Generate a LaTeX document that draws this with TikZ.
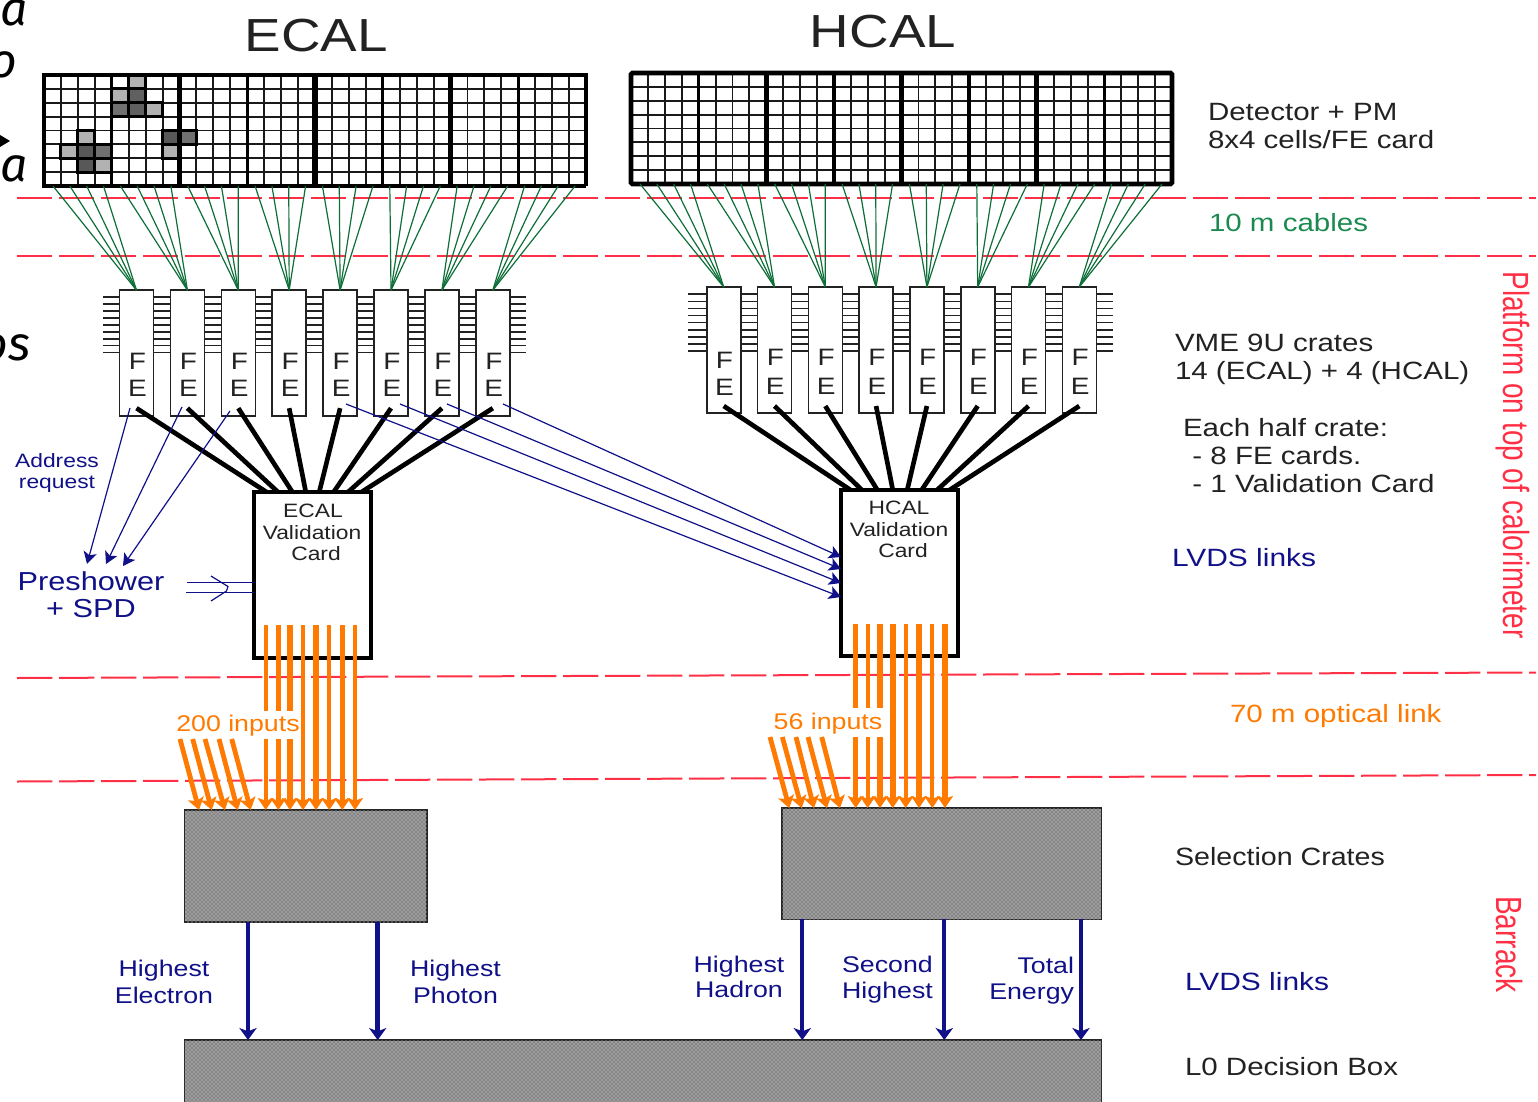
\documentclass[tikz,border=0pt]{standalone}
\usepackage{fontspec}
\setmainfont{Liberation Sans}
\newfontfamily\scrapfont{Fira Sans}
\usetikzlibrary{arrows.meta,patterns,calc}
\definecolor{navyc}{HTML}{101088}
\definecolor{darkt}{HTML}{222222}
\definecolor{redd}{HTML}{FF3045}
\definecolor{grn}{HTML}{0E6E38}
\definecolor{grnt}{HTML}{1C8A50}
\definecolor{orng}{HTML}{FF7A00}
\definecolor{cgray}{HTML}{868686}
\newcommand\fz[2]{\fontsize{#1}{#2}\selectfont}
\tikzset{
  x=0.75pt,y=-0.75pt,
  txt/.style={transform shape,xscale=1.18,inner sep=0pt,outer sep=0pt,text=darkt},
  rcol/.style={txt,anchor=west,align=left,font=\fz{18.75}{21}},
  title/.style={txt,font=\fz{34.8}{40}},
  blab/.style={txt,text=navyc,align=center,font=\fz{17}{20}},
  vlab/.style={txt,font=\fz{14.5}{17}},
  fel/.style={txt,font=\fz{17.8}{20}},
  olab/.style={txt,text=orng,font=\fz{17}{20}},
  vert/.style={transform shape,rotate=-90,yscale=1.3,inner sep=0pt,text=redd,font=\fz{21}{24}},
  scrap/.style={inner sep=0pt,anchor=base east,font=\scrapfont\itshape\fz{36}{40}},
  hair/.style={redd,line width=1.5pt,dash pattern=on 26.5pt off 5pt},
  fecard/.style={draw=darkt,fill=white,line width=1.2pt,minimum width=25.5pt,minimum height=94.5pt,inner sep=0pt,outer sep=0pt},
  valcard/.style={draw=black,fill=white,line width=3pt,minimum width=87.75pt,minimum height=124.5pt,inner sep=0pt,outer sep=0pt},
  crate/.style={draw=black!85,line width=1.1pt,fill=cgray,inner sep=0pt,outer sep=0pt,postaction={pattern=crosshatch dots,pattern color=white!85!cgray}},
  gridline/.style={draw=black!90,line width=1.45pt},
  tick/.style={draw=darkt,line width=1.25pt},
  cable/.style={draw=grn,line width=0.9pt},
  fibre/.style={draw=black,line width=3.5pt},
  lvdsthin/.style={draw=navyc,line width=0.9pt,-{Stealth[length=9pt,width=10pt,inset=2.2pt]}},
  lvdsfat/.style={draw=navyc,-{Stealth[length=9pt,width=13pt,inset=2.5pt]}},
  opt/.style={draw=orng},
  optend/.style={draw=orng,-{Stealth[length=9pt,width=12pt,inset=2pt]}},
  hotcell/.style={draw=black,line width=2.3pt},
}
\begin{document}
\begin{tikzpicture}
\useasboundingbox (0,0) rectangle (1538,1102);
% fragments at the left edge
\node[scrap] (s1) at (28,26) {a};
\node[scrap] (s2) at (18,78) {o};
\node[scrap] (s3) at (28,181) {a};
\node[scrap] (s4) at (31,360) {os};
\fill[black] (0,135) -- (10,141) -- (0,147) -- cycle;
% red boundaries
\coordinate (ra1) at (17,198.2); \coordinate (rb1) at (1536,198.2);
\coordinate (ra2) at (17,256);   \coordinate (rb2) at (1536,256);
\coordinate (ra3) at (17,678);   \coordinate (rb3) at (1536,672.5);
\coordinate (ra4) at (17,781.5); \coordinate (rb4) at (1536,775);
\foreach \i in {1,2,3,4} \draw[hair] (ra\i) -- (rb\i);
% titles
\node[title] (ecalt) at (316,36) {ECAL};
\node[title] (hcalt) at (883,32) {HCAL};
% ECAL grid
\foreach \c in {1,...,31} \draw[gridline] ({44+\c*16.94},75) -- ({44+\c*16.94},186);
\foreach \r in {1,...,7} \draw[gridline] (44,{75+\r*13.88}) -- (586,{75+\r*13.88});
\foreach \cc/\rr/\col in {5/0/B2B2B2,4/1/B2B2B2,5/1/606060,4/2/707070,5/2/606060,6/2/B2B2B2,2/4/B2B2B2,1/5/B2B2B2,2/5/585858,3/5/707070,2/6/585858,3/6/B2B2B2,7/4/585858,8/4/707070,7/5/B2B2B2}{
  \definecolor{cellc}{HTML}{\col}
  \draw[hotcell,fill=cellc] ({44+\cc*16.94},{75+\rr*13.88}) rectangle ({44+(\cc+1)*16.94},{75+(\rr+1)*13.88});
}
\foreach \k/\w in {1/2.6,2/3.4,3/2.6,4/3.8,5/2.3,6/3.4,7/2.6} \draw[draw=black,line width=\w pt] ({44+\k*67.75},75) -- ({44+\k*67.75},186);
\draw[black,line width=2.4pt] (315,186) -- (586,186);
\draw[black,line width=3.2pt] (315,186) -- (44,186) -- (44,75) -- (586,75) -- (586,186);
% HCAL grid
\foreach \c in {1,...,31} \draw[gridline] ({631+\c*16.91},73) -- ({631+\c*16.91},184);
\foreach \r in {1,...,7} \draw[gridline] (631,{73+\r*13.88}) -- (1172,{73+\r*13.88});
\foreach \k/\w in {1/2.6,2/3.8,3/3,4/3.8,5/2.6,6/3.8,7/2.6} \draw[draw=black,line width=\w pt] ({631+\k*67.63},73) -- ({631+\k*67.63},184);
\draw[black,line width=3.4pt,rounded corners=1pt] (631,73) rectangle (1172,184);
% FE ticks
\foreach \t in {0,...,8} {
  \draw[tick] (103,{297+6.95*\t}) -- (526,{297+6.95*\t});
  \draw[tick] (688,{294.3+7.08*\t}) -- (1113,{294.3+7.08*\t});
}
% FE cards
\foreach \i in {0,...,7} {
  \node[fecard] (ef\i) at ({136.5+50.9*\i},353.2) {};
  \node[fecard] (hf\i) at ({723.7+50.8*\i},350) {};
  \pgfmathsetmacro\hfy{\i==0 ? 360 : 357}
  \pgfmathsetmacro\hey{\i==0 ? 387 : 386}
  \node[fel] (eF\i) at ({137.5+50.9*\i},361) {F};
  \node[fel] (eE\i) at ({137.5+50.9*\i},388.5) {E};
  \node[fel] (hF\i) at ({724.5+50.8*\i},\hfy) {F};
  \node[fel] (hE\i) at ({724.5+50.8*\i},\hey) {E};
}
% cables
\foreach \i in {0,...,7} \foreach \k in {0,...,3} {
  \pgfmathsetmacro\n{4*\i+\k}
  \coordinate (eg) at ({53+16.84*\n},186);
  \coordinate (hg) at ({640+16.84*\n},184);
  \draw[cable] (eg) -- (ef\i.north);
  \draw[cable] (hg) -- (hf\i.north);
}
% Validation cards and data links
\foreach \i/\x in {0/268,1/279,2/293,3/306,4/319,5/333,6/347,7/360} {
  \coordinate (ea\i) at ($(ef\i.south)+(0,-8)$);
  \coordinate (eb\i) at (\x,493);
  \draw[fibre] (ea\i) -- (eb\i);
}
\foreach \i/\x in {0/852,1/863,2/878,3/893,4/907,5/921,6/936,7/948} {
  \coordinate (ha\i) at ($(hf\i.south)+(0,-7)$);
  \coordinate (hb\i) at (\x,491);
  \draw[fibre] (ha\i) -- (hb\i);
}
\node[valcard] (ev) at (312.7,575) {};
\node[valcard] (hv) at (899.5,573) {};
\node[vlab] (ev1) at (313,511) {ECAL};
\node[vlab] (ev2) at (312,533) {Validation};
\node[vlab] (ev3) at (316,554) {Card};
\node[vlab] (hv1) at (899,508) {HCAL};
\node[vlab] (hv2) at (899,530) {Validation};
\node[vlab] (hv3) at (903,551) {Card};
% links to HCAL validation card
\foreach \s/\x/\y in {a/346/597,b/400/583,c/447/569,d/503/557} {
  \coordinate (ls\s) at (\x,404);
  \coordinate (le\s) at (hv.west |- 0,\y);
  \draw[lvdsthin] (ls\s) -- (le\s);
}
% address request
\node[blab,font=\fz{14.5}{15.2}] (addr) at (57,473) {Address\\request};
\node[blab,font=\fz{19.5}{20.3}] (presh) at (91,594.5) {Preshower\\+ SPD};
\foreach \s/\i/\xa/\ya/\xb/\yb in {a/0/130/408/87/564,b/1/182/407/106/564,c/2/230/411/123/566} {
  \coordinate (ad\s) at (\xa,\ya);
  \coordinate (ae\s) at (\xb,\yb);
  \draw[lvdsthin] (ad\s) -- (ae\s);
}
\coordinate (pr1) at (187,582.7);
\coordinate (pr2) at (186,592.7);
\draw[draw=navyc,line width=0.9pt] (pr1) -- (pr1 -| ev.west);
\draw[draw=navyc,line width=0.9pt] (pr2) -- (pr2 -| ev.west);
\draw[draw=navyc,line width=0.9pt] (211,576) -- (228,586.5) -- (226.5,591) -- (211,601);
% selection crates and L0 box
\node[crate,minimum width=181.8pt,minimum height=84pt] (ecr) at (305.7,866) {};
\node[crate,minimum width=239.5pt,minimum height=83.5pt] (hcr) at (941.7,863.7) {};
\node[crate,minimum width=687.8pt,minimum height=75pt] (l0) at (643,1090) {};
% optical links
\foreach \x/\w/\b in {265.7/3/1,278.3/4/1,290/4/1,303/2.8/0,316/4.2/0,329.3/2.8/0,342.3/4/0,355/3.6/0} {
  \coordinate (top) at (\x,625);
  \coordinate (bot) at (\x,0 |- ecr.north);
  \ifnum\b=1
    \draw[opt,line width=\w pt] (top) -- (\x,711);
    \draw[optend,line width=\w pt] (\x,739) -- (bot);
  \else
    \draw[optend,line width=\w pt] (top) -- (bot);
  \fi
}
\foreach \x/\w/\b in {855.7/3.8/1,867.7/3/1,880/3.8/1,892.7/4.2/0,905.7/2.8/0,919/4.2/0,932.3/2.8/0,945/4/0} {
  \coordinate (top) at (\x,624);
  \coordinate (bot) at (\x,0 |- hcr.north);
  \ifnum\b=1
    \draw[opt,line width=\w pt] (top) -- (\x,708);
    \draw[optend,line width=\w pt] (\x,737) -- (bot);
  \else
    \draw[optend,line width=\w pt] (top) -- (bot);
  \fi
}
\foreach \xa/\xb in {180/199,192.7/211.7,205/225,219/237.7,231.7/250.7} {
  \coordinate (sa) at (\xa,739);
  \coordinate (sb) at (\xb,0 |- ecr.north);
  \draw[optend,line width=3.6pt] (sa) -- (sb);
}
\foreach \xa/\xb in {770/789.3,782.3/801.7,796/814,808/827,821.7/840} {
  \coordinate (sa) at (\xa,737);
  \coordinate (sb) at (\xb,0 |- hcr.north);
  \draw[optend,line width=3.6pt] (sa) -- (sb);
}
\node[olab] (i200) at (238,726) {200 inputs};
\node[olab] (i56) at (828,724) {56 inputs};
% trigger outputs
\foreach \x/\w in {248/3.4,377.7/3.4} {
  \coordinate (st) at (\x,0 |- ecr.south);
  \coordinate (en) at (\x,0 |- l0.north);
  \draw[lvdsfat,line width=\w pt] (st) -- (en);
}
\foreach \x/\w in {802.3/2.8,944.3/2.8,1081/2.8} {
  \coordinate (st) at (\x,0 |- hcr.south);
  \coordinate (en) at (\x,0 |- l0.north);
  \draw[lvdsfat,line width=\w pt] (st) -- (en);
}
\node[blab,font=\fz{17}{20.3}] (o1) at (164,981.5) {Highest\\Electron};
\node[blab,font=\fz{17}{20.3}] (o2) at (455.5,981.5) {Highest\\Photon};
\node[blab,font=\fz{17}{19}] (o3) at (739,977) {Highest\\Hadron};
\node[blab,font=\fz{17}{19.5}] (o4) at (887.5,980) {Second\\Highest};
\node[blab,font=\fz{17}{19.5},anchor=east,align=right] (o5) at (1074,981) {Total\\Energy};
% right column
\node[rcol] (r1) at (1208,126.5) {Detector + PM\\8x4 cells/FE card};
\node[rcol,text=grnt] (r2) at (1209,222.5) {10 m cables};
\node[rcol] (r3) at (1175,359) {VME 9U crates\\14 (ECAL) + 4 (HCAL)};
\node[rcol] (r4) at (1183,456) {Each half crate:\\\hspace*{6pt}- 8 FE cards.\\\hspace*{6pt}- 1 Validation Card};
\node[rcol,text=navyc,xscale=1.014] (r5) at (1172,558) {LVDS links};
\node[rcol,text=orng] (r6) at (1230,716) {70 m optical link};
\node[rcol,xscale=0.97] (r7) at (1175,857) {Selection Crates};
\node[rcol,text=navyc,xscale=1.014] (r8) at (1185,982) {LVDS links};
\node[rcol] (r9) at (1185,1067) {L0 Decision Box};
\node[vert] (v1) at (1513,455) {Platform on top of calorimeter};
\node[vert] (v2) at (1509,944.5) {Barrack};
\end{tikzpicture}
\end{document}
